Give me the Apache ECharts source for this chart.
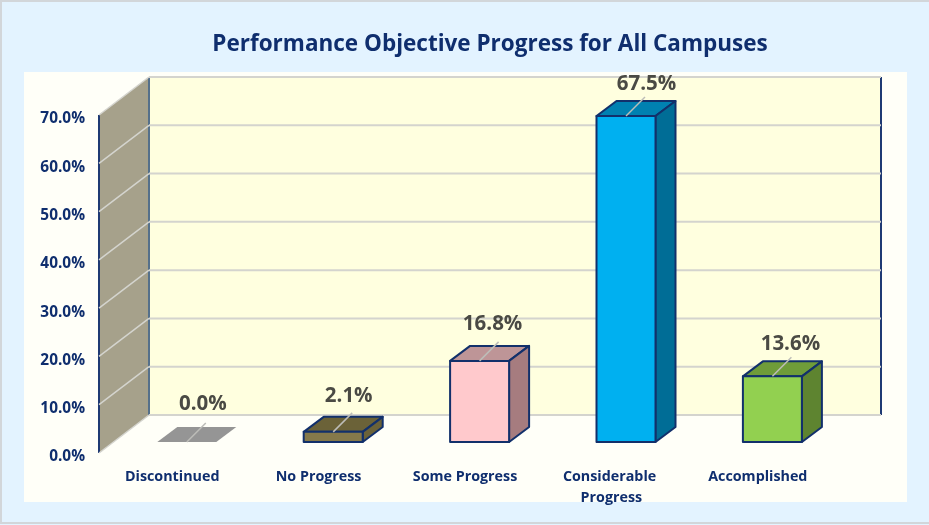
<!DOCTYPE html>
<html><head><meta charset="utf-8">
<style>html,body{margin:0;padding:0;background:#E3F3FF}#c{width:929px;height:525px}</style>
<script src="https://cdn.jsdelivr.net/npm/echarts@6/dist/echarts.min.js"></script>
</head><body><div id="c"></div>
<script>
const titleText = 'Performance Objective Progress for All Campuses';
const categories = ['Discontinued', 'No Progress', 'Some Progress', 'Considerable Progress', 'Accomplished'];
const values = [0.0, 2.1, 16.8, 67.5, 13.6];
const ticks = [0, 10, 20, 30, 40, 50, 60, 70];

const frontColors = ['#959595', '#85794A', '#FFC9CC', '#00B0F0', '#92D050'];
const topColors = ['#959595', '#6B6238', '#BE9597', '#0081B1', '#6F9C39'];
const sideColors = ['#959595', '#6B6238', '#A67C7F', '#006D96', '#5E8430'];
const labelShiftX = [16, 15.5, 13, 20.5, 18];
const labelShiftY = [38, 36, 37, 32, 32];
const NAVY = '#0F2E6E', EDGE = '#12306B', GRID = '#D4D4CE';
const DEPTH_X = 50, DEPTH_Y = 38;    // full floor depth
const OFF_X = 14.6, OFF_Y = 11;      // bars stand this far into the floor
const BAR_X = 20, BAR_Y = 15;        // bar depth

const chart = echarts.init(document.getElementById('c'), null, {renderer: 'canvas'});

function wallItem(params, api) {
  const cs = params.coordSys, tick = api.value(0);
  const x0 = cs.x, x1 = cs.x + cs.width, y = api.coord([0, tick])[1];
  const bottom = cs.y + cs.height, top = cs.y;
  const children = [];
  const line = (a, b, c, d, color, w) => ({type: 'line', shape: {x1: a, y1: b, x2: c, y2: d},
    style: {stroke: color, lineWidth: w}});
  if (params.dataIndex === 0) {
    children.push({type: 'rect', shape: {x: x0 + DEPTH_X, y: top - DEPTH_Y, width: cs.width, height: cs.height},
      style: {fill: '#FFFFDF'}});
    children.push({type: 'polygon', shape: {points: [[x0, top], [x0 + DEPTH_X, top - DEPTH_Y],
      [x0 + DEPTH_X, bottom - DEPTH_Y], [x0, bottom]]}, style: {fill: '#A6A18B'}});
    children.push(line(x0 + DEPTH_X, top - DEPTH_Y, x0 + DEPTH_X, bottom - DEPTH_Y, '#55708A', 2));
    children.push(line(x1 + DEPTH_X, top - DEPTH_Y, x1 + DEPTH_X, bottom - DEPTH_Y, '#1F3A73', 2));
    children.push(line(x0, top, x0, bottom, '#1F3A73', 2));
  }
  children.push(line(x0 + DEPTH_X, y - DEPTH_Y, x1 + DEPTH_X, y - DEPTH_Y, GRID, 2));
  children.push(line(x0, y, x0 + DEPTH_X, y - DEPTH_Y, GRID, 1.5));
  return {type: 'group', children};
}

function barItem(params, api) {
  const i = params.dataIndex, v = api.value(1);
  const base = api.coord([i, 0]), tip = api.coord([i, v]);
  const w = 59;
  const l = base[0] + OFF_X - w / 2, r = l + w, b = base[1] - OFF_Y, t = tip[1] - OFF_Y;
  const cx = (l + r) / 2;
  const children = [];
  const flat = v === 0;
  const stroke = flat ? {} : {stroke: EDGE, lineWidth: 2, lineJoin: 'round'};
  const topShape = [[l, t], [l + BAR_X, t - BAR_Y], [r + BAR_X, t - BAR_Y], [r, t]];
  children.push({type: 'polygon', shape: {points: topShape},
    style: Object.assign({fill: topColors[i]}, stroke)});
  if (!flat) {
    children.push({type: 'polygon', shape: {points: [[r, t], [r + BAR_X, t - BAR_Y], [r + BAR_X, b - BAR_Y], [r, b]]},
      style: Object.assign({fill: sideColors[i]}, stroke)});
    children.push({type: 'rect', shape: {x: l, y: t, width: w, height: b - t},
      style: Object.assign({fill: frontColors[i]}, stroke)});
  }
  children.push({type: 'line', shape: {x1: cx, y1: t, x2: cx + 19, y2: t - 19},
    style: {stroke: '#BDBDB8', lineWidth: 1.5}});
  children.push({type: 'text', style: {
    text: v.toFixed(1) + '%', x: cx + labelShiftX[i], y: t - labelShiftY[i], align: 'center', verticalAlign: 'middle',
    font: 'bold 20.5px "Open Sans", sans-serif', fill: '#4A4A44'}});
  return {type: 'group', children};
}

chart.setOption({
  animation: false,
  backgroundColor: '#E3F3FF',
  title: {text: titleText, left: 485, top: 28, textAlign: 'center',
    textStyle: {color: NAVY, fontSize: 22.5, fontWeight: 'bold', fontFamily: '"Open Sans", sans-serif'}},
  graphic: [
    {type: 'polyline', z: -10, shape: {points: [[929, 1], [1, 1], [1, 523], [929, 523]]},
      style: {fill: 'none', stroke: '#D2D6DA', lineWidth: 2}},
    {type: 'rect', z: -10, shape: {x: 24, y: 72, width: 883, height: 430}, style: {fill: '#FFFFF8'}}
  ],
  grid: {left: 99, right: 98, top: 115, bottom: 72, containLabel: false},
  xAxis: {type: 'category', data: categories,
    axisLine: {show: false}, axisTick: {show: false}, splitLine: {show: false},
    axisLabel: {color: NAVY, fontSize: 14.3, fontWeight: 'bold', fontFamily: '"Open Sans", sans-serif',
      margin: 13, lineHeight: 21, width: 120, overflow: 'break', interval: 0}},
  yAxis: {type: 'value', min: 0, max: 70, interval: 10,
    axisLine: {show: false}, axisTick: {show: false}, splitLine: {show: false},
    axisLabel: {color: NAVY, fontSize: 15.4, fontWeight: 'bold', fontFamily: '"Open Sans", sans-serif',
      margin: 14, verticalAlign: 'top', lineHeight: 8, formatter: v => v.toFixed(1) + '%'}},
  series: [
    {type: 'custom', z: 1, silent: true, data: ticks.map(t => [t]), encode: {y: 0}, renderItem: wallItem},
    {type: 'custom', z: 2, silent: true, data: values.map((v, i) => [i, v]), encode: {x: 0, y: 1}, renderItem: barItem}
  ]
});
</script></body></html>
